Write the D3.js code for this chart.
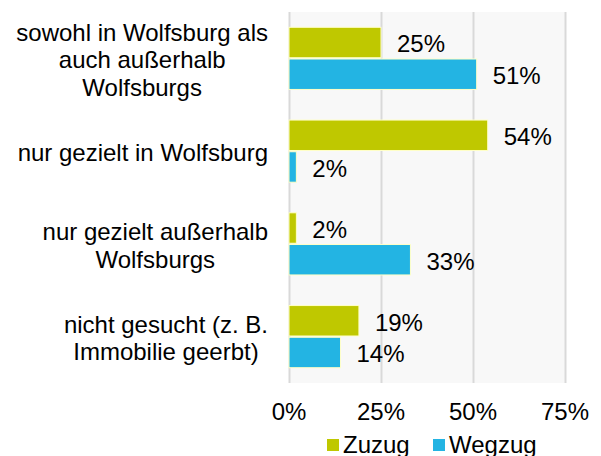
<!DOCTYPE html>
<html>
<head>
<meta charset="utf-8">
<script src="https://cdn.jsdelivr.net/npm/d3@7"></script>
<style>
  body { margin: 0; background: #fff; }
  text { font-family: "Liberation Sans", Arial, sans-serif; fill: #000; }
</style>
</head>
<body>
<div id="chart"></div>
<script>
// Data
const categories = [
  ["sowohl in Wolfsburg als", "auch außerhalb", "Wolfsburgs"],
  ["nur gezielt in Wolfsburg"],
  ["nur gezielt außerhalb", "Wolfsburgs"],
  ["nicht gesucht (z. B.", "Immobilie geerbt)"]
];
const seriesNames = ["Zuzug", "Wegzug"];
const zuzug = [25, 54, 2, 19];
const wegzug = [51, 2, 33, 14];
const xTicks = [0, 25, 50, 75];

const colors = ["#BFC800", "#23B4E3"];

const width = 601;
const height = 456;
const margin = { top: 12, right: 36, bottom: 73, left: 289 };
const fontSize = 24;

const svg = d3.select("#chart")
  .append("svg")
    .attr("width", width)
    .attr("height", height);

const innerWidth = width - margin.left - margin.right;
const innerHeight = height - margin.top - margin.bottom;

const inner = svg.append("g")
  .attr("transform", `translate(${margin.left}, ${margin.top})`);

// Scales
const x = d3.scaleLinear().domain([0, 75]).range([0, innerWidth]);
const y = d3.scaleBand()
  .domain(d3.range(categories.length))
  .range([0, innerHeight])
  .paddingInner(0.33)
  .paddingOuter(0.165);
const ySub = d3.scaleBand()
  .domain(d3.range(seriesNames.length))
  .range([0, y.bandwidth()])
  .paddingInner(0.04);

// Plot background
inner.append("rect")
  .attr("width", innerWidth)
  .attr("height", innerHeight)
  .attr("fill", "#F8F8F8");

// Gridlines
inner.selectAll(".grid")
  .data(xTicks)
  .join("line")
    .attr("x1", d => x(d) + 0.5)
    .attr("x2", d => x(d) + 0.5)
    .attr("y1", 0)
    .attr("y2", innerHeight)
    .attr("stroke", "#D9D9D9")
    .attr("stroke-width", 2);

// Tick labels
inner.selectAll(".tick-label")
  .data(xTicks)
  .join("text")
    .attr("x", d => x(d))
    .attr("y", innerHeight + 29)
    .attr("dy", "0.35em")
    .attr("text-anchor", "middle")
    .attr("font-size", fontSize)
    .text(d => d + "%");

// Bars
const series = [zuzug, wegzug];
const bars = [];
series.forEach((vals, s) => {
  vals.forEach((v, i) => bars.push({ s, i, v }));
});

inner.selectAll(".bar")
  .data(bars)
  .join("rect")
    .attr("x", 0)
    .attr("y", d => y(d.i) + ySub(d.s))
    .attr("width", d => x(d.v))
    .attr("height", ySub.bandwidth())
    .attr("fill", d => colors[d.s])
    .attr("stroke", "#FFFFC8")
    .attr("stroke-width", 1);

// Value labels
inner.selectAll(".value")
  .data(bars)
  .join("text")
    .attr("x", d => x(d.v) + 16)
    .attr("y", d => y(d.i) + ySub(d.s) + ySub.bandwidth() / 2 + 1.5)
    .attr("dy", "0.35em")
    .attr("font-size", fontSize)
    .text(d => d.v + "%");

// Category labels: centered lines, block right-aligned
const lineHeight = 27.5;
const catGroups = inner.selectAll(".cat")
  .data(categories)
  .join("text")
    .attr("text-anchor", "middle")
    .attr("font-size", fontSize);

catGroups.each(function(lines, i) {
  const t = d3.select(this);
  const cy = y(i) + y.bandwidth() / 2 + 1.5;
  lines.forEach((line, k) => {
    t.append("tspan")
      .attr("x", 0)
      .attr("y", cy + (k - (lines.length - 1) / 2) * lineHeight)
      .attr("dy", "0.35em")
      .text(line);
  });
  // right-align the block at x = -21 (in inner coords)
  const w = this.getBBox().width;
  t.selectAll("tspan").attr("x", -21 - w / 2);
});

// Legend
const legend = svg.append("g")
  .attr("transform", `translate(327, 445)`);
const legendX = [0, 106];
seriesNames.forEach((name, s) => {
  const g = legend.append("g").attr("transform", `translate(${legendX[s]}, 0)`);
  g.append("rect")
    .attr("x", 0)
    .attr("y", -6)
    .attr("width", 12)
    .attr("height", 12)
    .attr("fill", colors[s]);
  g.append("text")
    .attr("x", 16)
    .attr("y", 0)
    .attr("dy", "0.35em")
    .attr("font-size", fontSize)
    .text(name);
});
</script>
</body>
</html>
